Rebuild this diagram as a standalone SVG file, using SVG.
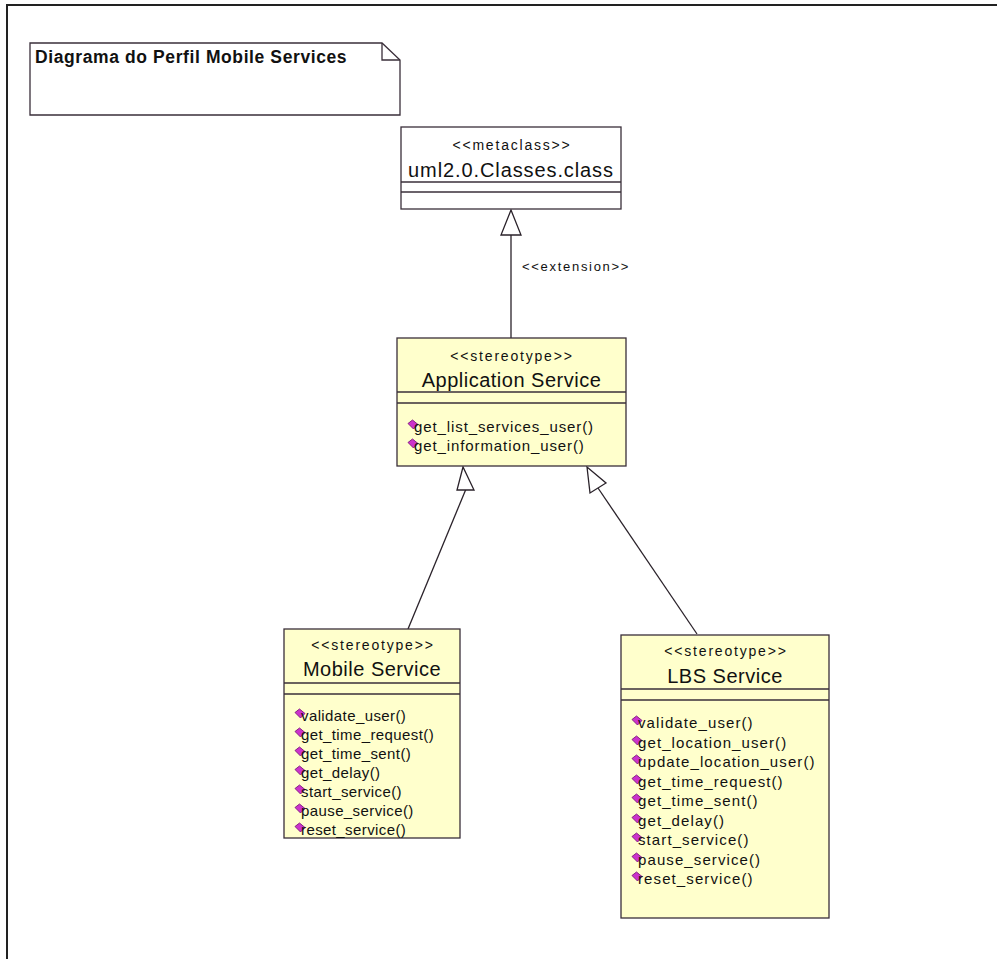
<svg xmlns="http://www.w3.org/2000/svg" xmlns:xlink="http://www.w3.org/1999/xlink" width="997" height="959" viewBox="0 0 997 959">
  <style>
    .box { fill: #ffffcc; stroke: #3a2f3a; stroke-width: 1.3; }
    .plain { fill: #ffffff; stroke: #3a2f3a; stroke-width: 1.3; }
    .sep { stroke: #3a2f3a; stroke-width: 1.3; }
    .edge { fill: none; stroke: #2a222a; stroke-width: 1.3; }
    .head { fill: #ffffff; stroke: #2a222a; stroke-width: 1.3; }
    .stereo { font-family: "Liberation Sans", Arial, sans-serif; font-size: 14px; letter-spacing: 1.8px; fill: #111; text-anchor: middle; }
    .name { font-family: "Liberation Sans", Arial, sans-serif; font-size: 20px; letter-spacing: 0.5px; fill: #111; text-anchor: middle; }
    .op { font-family: "Liberation Sans", Arial, sans-serif; font-size: 15px; letter-spacing: 0.9px; fill: #111; }
    .label { font-family: "Liberation Sans", Arial, sans-serif; font-size: 13px; letter-spacing: 1.7px; fill: #111; }
    .title { font-family: "Liberation Sans", Arial, sans-serif; font-size: 17.5px; font-weight: bold; letter-spacing: 0.6px; fill: #111; }
    #mobile-service .op { letter-spacing: 0.4px; }
    #lbs-service .op { letter-spacing: 1.1px; }
  </style>
  <defs>
    <!-- operation visibility marker -->
    <path id="op" d="M-5,-1.5 L-0.5,-5 L5,-0.5 L0.5,4 Z" fill="#cc33cc" stroke="#7a1a7a" stroke-width="0.9"/>
  </defs>

  <rect width="997" height="959" fill="#ffffff"/>

  <!-- diagram frame -->
  <path d="M7,959 L7,5 L997,5" fill="none" stroke="#222" stroke-width="2"/>

  <!-- note -->
  <g id="note">
    <path class="plain" d="M30,43 L382,43 L400,60 L400,115 L30,115 Z"/>
    <path d="M382,43 L382,60 L400,60" fill="none" stroke="#3a2f3a" stroke-width="1.3"/>
    <text class="title" x="35" y="63">Diagrama do Perfil Mobile Services</text>
  </g>

  <!-- connectors -->
  <g id="connectors">
    <line class="edge" x1="511" y1="235" x2="511" y2="338"/>
    <polygon class="head" points="511,210 501,235 521,235"/>
    <text class="label" x="522" y="271">&lt;&lt;extension&gt;&gt;</text>

    <line class="edge" x1="408" y1="629" x2="466" y2="489"/>
    <polygon class="head" points="463,467 457,490 474,490"/>

    <line class="edge" x1="697" y1="634" x2="598" y2="488"/>
    <polygon class="head" points="587,467 590,493 606,483"/>
  </g>

  <!-- metaclass -->
  <g id="metaclass">
    <rect class="plain" x="401" y="127" width="220" height="82"/>
    <text class="stereo" x="512" y="150">&lt;&lt;metaclass&gt;&gt;</text>
    <text class="name" x="511" y="177" style="letter-spacing:0.9px">uml2.0.Classes.class</text>
    <line class="sep" x1="401" y1="182" x2="621" y2="182"/>
    <line class="sep" x1="401" y1="192" x2="621" y2="192"/>
  </g>

  <!-- Application Service -->
  <g id="application-service">
    <rect class="box" x="397" y="338" width="229" height="128"/>
    <text class="stereo" x="512" y="361">&lt;&lt;stereotype&gt;&gt;</text>
    <text class="name" x="511.5" y="387">Application Service</text>
    <line class="sep" x1="397" y1="392" x2="626" y2="392"/>
    <line class="sep" x1="397" y1="403" x2="626" y2="403"/>
    <use xlink:href="#op" x="413" y="425"/>
    <text class="op" x="414" y="432">get_list_services_user()</text>
    <use xlink:href="#op" x="413" y="444"/>
    <text class="op" x="414" y="451">get_information_user()</text>
  </g>

  <!-- Mobile Service -->
  <g id="mobile-service">
    <rect class="box" x="284" y="629" width="176" height="209"/>
    <text class="stereo" x="373" y="650">&lt;&lt;stereotype&gt;&gt;</text>
    <text class="name" x="372" y="676">Mobile Service</text>
    <line class="sep" x1="284" y1="683" x2="460" y2="683"/>
    <line class="sep" x1="284" y1="694" x2="460" y2="694"/>
    <use xlink:href="#op" x="300" y="714"/>
    <text class="op" x="301" y="721">validate_user()</text>
    <use xlink:href="#op" x="300" y="733"/>
    <text class="op" x="301" y="740">get_time_request()</text>
    <use xlink:href="#op" x="300" y="752"/>
    <text class="op" x="301" y="759">get_time_sent()</text>
    <use xlink:href="#op" x="300" y="771"/>
    <text class="op" x="301" y="778">get_delay()</text>
    <use xlink:href="#op" x="300" y="790"/>
    <text class="op" x="301" y="797">start_service()</text>
    <use xlink:href="#op" x="300" y="809"/>
    <text class="op" x="301" y="816">pause_service()</text>
    <use xlink:href="#op" x="300" y="828"/>
    <text class="op" x="301" y="835">reset_service()</text>
  </g>

  <!-- LBS Service -->
  <g id="lbs-service">
    <rect class="box" x="621" y="635" width="208" height="283"/>
    <text class="stereo" x="726" y="656">&lt;&lt;stereotype&gt;&gt;</text>
    <text class="name" x="725" y="683">LBS Service</text>
    <line class="sep" x1="621" y1="689" x2="829" y2="689"/>
    <line class="sep" x1="621" y1="700" x2="829" y2="700"/>
    <use xlink:href="#op" x="637" y="721"/>
    <text class="op" x="638" y="728">validate_user()</text>
    <use xlink:href="#op" x="637" y="741"/>
    <text class="op" x="638" y="748">get_location_user()</text>
    <use xlink:href="#op" x="637" y="760"/>
    <text class="op" x="638" y="767">update_location_user()</text>
    <use xlink:href="#op" x="637" y="780"/>
    <text class="op" x="638" y="787">get_time_request()</text>
    <use xlink:href="#op" x="637" y="799"/>
    <text class="op" x="638" y="806">get_time_sent()</text>
    <use xlink:href="#op" x="637" y="819"/>
    <text class="op" x="638" y="826">get_delay()</text>
    <use xlink:href="#op" x="637" y="838"/>
    <text class="op" x="638" y="845">start_service()</text>
    <use xlink:href="#op" x="637" y="858"/>
    <text class="op" x="638" y="865">pause_service()</text>
    <use xlink:href="#op" x="637" y="877"/>
    <text class="op" x="638" y="884">reset_service()</text>
  </g>
</svg>
